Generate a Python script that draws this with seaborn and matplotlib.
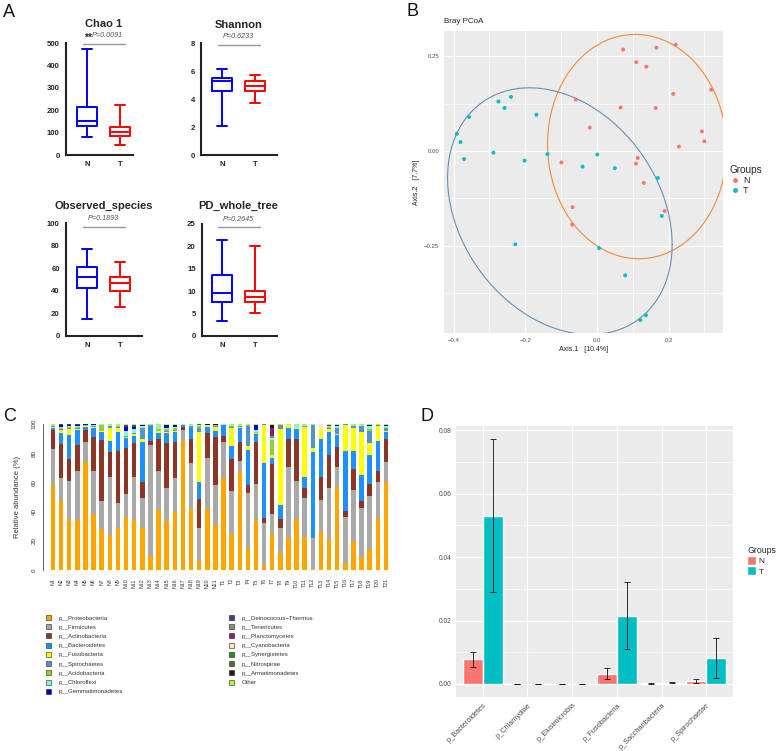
import numpy as np
import pandas as pd
import seaborn as sns
import matplotlib.pyplot as plt
import matplotlib.transforms as mtransforms
from matplotlib.patches import Patch
from matplotlib.lines import Line2D
from matplotlib.ticker import MultipleLocator

sns.set_style('white')
plt.rcParams['font.family'] = ['Liberation Sans', 'DejaVu Sans']

# ---------------- panel A: five-number summaries (min, q1, median, q3, max)
chao_n = [82, 128, 154, 215, 475]
chao_t = [46, 86, 102, 126, 221]
shannon_n = [2.05, 4.56, 5.29, 5.53, 6.14]
shannon_t = [3.74, 4.59, 4.92, 5.29, 5.72]
obs_n = [15.1, 42.6, 51.8, 61.5, 77.2]
obs_t = [26, 39.6, 47, 52.4, 65.7]
pdtree_n = [3.4, 7.6, 9.6, 13.7, 21.4]
pdtree_t = [5.2, 7.5, 8.75, 10.0, 20.1]

# ---------------- panel B: Bray PCoA coordinates
pcoa_n_x = [0.073, 0.166, 0.220, 0.110, 0.138, 0.213, 0.319, -0.059, 0.066, 0.164, -0.020,
            0.293, 0.300, 0.229, -0.099, 0.114, 0.109, 0.131, -0.068, 0.189, -0.069]
pcoa_n_y = [0.268, 0.273, 0.281, 0.235, 0.223, 0.151, 0.162, 0.136, 0.115, 0.114, 0.062,
            0.052, 0.026, 0.012, -0.030, -0.018, -0.033, -0.084, -0.148, -0.158, -0.194]
pcoa_t_x = [-0.391, -0.381, -0.371, -0.357, -0.275, -0.258, -0.240, -0.169, -0.289, -0.202, -0.138,
            -0.040, 0.001, 0.050, 0.170, 0.181, -0.228, 0.006, 0.079, 0.137, 0.121]
pcoa_t_y = [0.046, 0.024, -0.021, 0.090, 0.131, 0.114, 0.143, 0.096, -0.004, -0.025, -0.008,
            -0.041, -0.009, -0.045, -0.071, -0.171, -0.246, -0.256, -0.328, -0.433, -0.446]
# 95% ellipses (centre and shape matrix)
ellipse_n_center = [0.112, 0.012]
ellipse_n_shape = [[0.0625, -0.0015], [-0.0015, 0.0876]]
ellipse_t_center = [-0.1035, -0.1585]
ellipse_t_shape = [[0.0983, -0.0276], [-0.0276, 0.106]]

# ---------------- panel C: relative abundance (%) per sample, N1..N21 then T1..T21
samples = ['N%d' % i for i in range(1, 22)] + ['T%d' % i for i in range(1, 22)]
phyla = ['p__Proteobacteria', 'p__Firmicutes', 'p__Actinobacteria', 'p__Bacteroidetes',
         'p__Fusobacteria', 'p__Spirochaetes', 'p__Acidobacteria', 'p__Chloroflexi',
         'p__Gemmatimonadetes', 'p__Deinococcus\u2212Thermus', 'p__Tenericutes', 'p__Planctomycetes',
         'p__Cyanobacteria', 'p__Synergistetes', 'p__Nitrospirae', 'p__Armatimonadetes', 'Other']
phylum_colors = ['#FFA500', '#A9A9A9', '#8B3626', '#1E90FF', '#FFFF00', '#4F94CD', '#9ACD32',
                 '#7FFFD4', '#0000CD', '#483D8B', '#8B8970', '#8B1C62', '#FFE4C4', '#228B22',
                 '#556B2F', '#1C1C1C', '#ADFF2F']

proteobacteria = [58, 47, 35, 34, 74, 38.5, 28, 24, 28.5, 36, 34, 29, 9.5, 41, 33.5, 40, 88.5, 41.5, 7, 42, 31,
                  63, 24.5, 67, 15, 34, 3.5, 25, 11.5, 22, 35, 22.5, 0.5, 27, 21, 57, 4.5, 20, 9, 14.5, 35.5, 60]
firmicutes = [25, 16, 26, 34, 14, 29.5, 19.5, 39.5, 17.5, 16, 30, 20.5, 76, 26.5, 22.5, 23, 7.5, 31.5, 21.5, 35, 27,
              25, 29.5, 8, 37.5, 25, 29, 13.5, 17, 48.5, 26, 27, 21.5, 21, 35.5, 13.5, 31.5, 35, 33.5, 36.5, 24.5, 14]
actinobacteria = [13, 23, 15, 17.5, 8, 23, 41.5, 17, 35.5, 31.5, 23, 11, 3, 22, 31, 25, 2, 17, 20, 17, 33,
                  4, 22, 13, 6, 29, 3, 34, 6.5, 19.5, 29, 7, 0, 16, 22, 13.5, 4.5, 14.5, 4.5, 8, 7.5, 15.5]
bacteroidetes = [1.5, 8, 16.5, 10.5, 2, 6.5, 5.5, 8, 13, 7, 5, 27, 10, 4.5, 7, 6.5, 0.5, 7, 12, 4, 4.5,
                 7, 9, 9.5, 23.5, 5, 38, 4.5, 9.5, 7, 6.5, 7.5, 58.5, 25.5, 16, 8.5, 41, 12, 18, 20, 21, 5]
fusobacteria = [0.3, 2, 4, 0.5, 0.3, 0.5, 0.5, 9, 3, 0.5, 1, 2, 0.3, 1, 0.5, 0.5, 0, 0.5, 34, 1, 2.5,
                0.3, 12, 0.5, 3, 0.5, 26, 2, 52, 2, 0.5, 34, 3, 7, 2, 0.5, 18, 16, 29.5, 8, 10, 1]
spirochaetes = [0.5, 0.5, 0.8, 1, 0.5, 0.5, 0.5, 0.8, 0.5, 0.5, 0.5, 7.5, 0.5, 0.5, 1, 1, 1, 1, 3, 0.3, 0.5,
                0.3, 1, 0.5, 13.5, 0.5, 0.3, 0, 1.5, 0.3, 0.5, 0.5, 16, 0, 0.5, 4.5, 0.3, 1, 4, 8.5, 0.5, 1.5]
acidobacteria = [0.2, 0.5, 0.5, 0.5, 0.3, 0.3, 4, 0.5, 0.5, 0.5, 0.5, 0.5, 0, 1, 1, 1, 0, 0, 1, 0, 0.5,
                 0, 0.5, 0, 0.5, 0.5, 0, 10, 0, 0, 0, 0, 0, 0, 1, 0, 0, 0, 0, 1, 0, 0]
chloroflexi = [0.8, 1, 1, 0.5, 0.5, 0.6, 0.3, 0.5, 0.5, 3, 2.5, 1, 0.3, 2.5, 1, 1, 0.3, 1, 0.5, 0.3, 0.5,
               0.2, 1, 0.5, 0.5, 1.5, 0, 1.5, 0, 0.5, 2, 1, 0, 0, 0.5, 1, 0, 1, 0.5, 2, 0, 1.5]
gemmatimonadetes = [0.3, 1.5, 0.7, 1, 0.2, 0.3, 0, 0.3, 0.5, 3, 1.5, 0.5, 0, 0.5, 2, 1.5, 0, 0, 0, 0.2, 0.3,
                    0, 0, 0.5, 0, 3.5, 0, 0, 0, 0, 0, 0, 0, 0, 0, 1, 0, 0, 0, 0.5, 0.5, 1]
deinococcus = [0, 0.3, 0.3, 0.3, 0, 0, 0, 0, 0, 1.5, 1.5, 0, 0, 0, 0, 0, 0, 0, 0, 0, 0,
               0, 0, 0, 0, 0, 0, 0, 0, 0, 0, 0, 0, 0, 0, 0, 0, 0, 0, 0, 0, 0]
tenericutes = [0, 0, 0, 0, 0, 0, 0, 0, 0, 0, 0, 0, 0, 0, 0, 0, 0, 0, 0.5, 0, 0,
               0, 0, 0, 0, 0, 0, 1.5, 1.5, 0, 0, 0, 0, 0, 0, 0, 0, 0, 0, 0, 0, 0]
planctomycetes = [0, 0, 0, 0, 0, 0, 0, 0, 0, 0, 0, 0, 0, 0, 0, 0, 0, 0, 0, 0, 0,
                  0, 0, 0, 0, 0, 0, 5, 0, 0, 0, 0, 0, 0, 1, 0, 0, 0, 0, 0, 0, 0]
cyanobacteria = [0, 0, 0, 0, 0, 0, 0, 0, 0, 0, 0, 0, 0, 0, 0, 0, 0, 0, 0, 0, 0,
                 0, 0, 0, 0, 0, 0, 0, 0, 0, 0, 0, 0, 3.5, 0, 0, 0, 0, 0, 0, 0, 0]
synergistetes = [0, 0, 0, 0, 0, 0, 0, 0, 0, 0, 0, 0, 0, 0, 0, 0, 0, 0, 0.3, 0, 0,
                 0, 0, 0, 0, 0, 0, 0, 0, 0, 0, 0, 0, 0, 0, 0, 0, 0, 0, 0.5, 0, 0]
nitrospirae = [0, 0, 0, 0, 0, 0, 0, 0, 0, 0, 0, 0, 0, 0, 0, 0, 0, 0, 0, 0, 0,
               0, 0, 0, 0, 0, 0, 0.5, 0, 0, 0, 0, 0, 0, 0, 0, 0, 0, 0, 0, 0, 0]
armatimonadetes = [0, 0, 0, 0, 0, 0, 0, 0, 0, 0, 0, 0, 0, 0, 0, 0, 0, 0, 0, 0, 0,
                   0, 0, 0, 0, 0, 0, 2, 0, 0, 0, 0, 0, 0, 0, 0, 0, 0, 0, 0, 0, 0]
other = [0.4, 0.2, 0.2, 0.2, 0.2, 0.3, 0.2, 0.4, 0.5, 0.5, 0.5, 1, 0.4, 0.5, 0.5, 0.5, 0.2, 0.5, 0.2, 0.2, 0.2,
         0.2, 0.5, 0.5, 0.5, 0.5, 0.2, 0.5, 0.5, 0.2, 0.5, 0.5, 0.5, 0, 0.5, 0.5, 0.2, 0.5, 1, 0.5, 0.5, 0.5]
layers = [proteobacteria, firmicutes, actinobacteria, bacteroidetes, fusobacteria, spirochaetes,
          acidobacteria, chloroflexi, gemmatimonadetes, deinococcus, tenericutes, planctomycetes,
          cyanobacteria, synergistetes, nitrospirae, armatimonadetes, other]

# ---------------- panel D: mean relative abundance with error bars
phyla_d = ['p_Bacteroidetes', 'p_Chlamydiae', 'p_Elusimicrobia', 'p_Fusobacteria',
           'p_Saccharibacteria', 'p_Spirochaetae']
mean_n = [0.0078, 0.00003, 0.00002, 0.0032, 0.0002, 0.0009]
mean_t = [0.0530, 0.00003, 0.00001, 0.0214, 0.0004, 0.0081]
low_n = [0.0055, 0.0, 0.0, 0.0015, 0.0001, 0.0003]
high_n = [0.0101, 0.00006, 0.00004, 0.0049, 0.0003, 0.0015]
low_t = [0.0289, 0.0, 0.0, 0.0109, 0.0003, 0.0018]
high_t = [0.0773, 0.00006, 0.00002, 0.0321, 0.0005, 0.0144]

W, H = 777, 751
fig = plt.figure(figsize=(W / 100, H / 100), dpi=100)


def box(l, t, r, b):
    return [l / W, 1 - b / H, (r - l) / W, (b - t) / H]


# ======== A ========
def alpha_box(rect, xlim, vn, vt, ymax, step, title, ptext, ys, stars=False):
    ax = fig.add_axes(rect)
    df = pd.DataFrame({'group': ['N'] * 5 + ['T'] * 5, 'value': vn + vt})
    sns.boxplot(data=df, x='group', y='value', hue='group', order=['N', 'T'],
                palette={'N': '#0000FF', 'T': '#FF0000'}, fill=False, whis=(0, 100),
                width=0.6, linewidth=1.4, legend=False, ax=ax)
    ax.set_xlim(*xlim)
    ax.set_ylim(0, ymax)
    ax.set_yticks(np.arange(0, ymax + step / 2, step))
    ax.set_xlabel('')
    ax.set_ylabel('')
    for s in ['top', 'right']:
        ax.spines[s].set_visible(False)
    for s in ['left', 'bottom']:
        ax.spines[s].set_linewidth(1.5)
        ax.spines[s].set_color('#222222')
    ax.tick_params(direction='out', length=3, width=1.2, color='#222222', labelsize=5.6, pad=1.5)
    for lab in ax.get_xticklabels() + ax.get_yticklabels():
        lab.set_fontweight('bold')
    tr = mtransforms.blended_transform_factory(ax.transData, ax.transAxes)
    ax.text(0.5, ys[0], title, transform=tr, ha='center', va='center', fontsize=8, fontweight='bold')
    px = 0.62 if stars else 0.5
    ax.text(px, ys[1], ptext, transform=tr, ha='center', va='center', fontsize=5.2,
            style='italic', color='#555555')
    if stars:
        ax.text(0.02, ys[1] - 0.015, '**', transform=tr, ha='center', va='center', fontsize=7.5,
                fontweight='bold')
    ax.plot([-0.12, 1.15], [ys[2], ys[2]], transform=tr, color='#999999', lw=1.0, clip_on=False)
    return ax


alpha_box(box(66, 43, 133, 155), (-0.64, 1.39), chao_n, chao_t, 500, 100, 'Chao 1', 'P=0.0091',
          (1.17, 1.065, 0.99), stars=True)
alpha_box(box(201, 43, 277, 155), (-0.64, 1.67), shannon_n, shannon_t, 8, 2, 'Shannon', 'P=0.6233',
          (1.16, 1.056, 0.98))
alpha_box(box(66, 223, 142, 336), (-0.64, 1.67), obs_n, obs_t, 100, 20, 'Observed_species', 'P=0.1893',
          (1.15, 1.037, 0.967))
alpha_box(box(202, 224, 277, 336), (-0.61, 1.67), pdtree_n, pdtree_t, 25, 5, 'PD_whole_tree', 'P=0.2645',
          (1.16, 1.04, 0.97))


# ======== ggplot-like style ========
def gg_style(ax):
    ax.set_facecolor('#EBEBEB')
    for s in ax.spines.values():
        s.set_visible(False)
    ax.set_axisbelow(True)
    ax.grid(True, which='major', color='white', lw=0.9)
    ax.grid(True, which='minor', color='white', lw=0.45)
    ax.tick_params(which='major', length=2, width=0.5, color='#333333', labelsize=4.3,
                   labelcolor='#4D4D4D', pad=1.5)
    ax.tick_params(which='minor', length=0)


# ======== B ========
def ellipse_path(center, shape):
    chol = np.linalg.cholesky(np.array(shape))
    ang = np.linspace(0, 2 * np.pi, 181)
    circle = np.column_stack([np.cos(ang), np.sin(ang)])
    return np.array(center) + circle @ chol.T


ax_b = fig.add_axes(box(444, 31, 723, 333))
df_b = pd.DataFrame({'x': pcoa_n_x + pcoa_t_x, 'y': pcoa_n_y + pcoa_t_y,
                     'group': ['N'] * len(pcoa_n_x) + ['T'] * len(pcoa_t_x)})
sns.scatterplot(data=df_b, x='x', y='y', hue='group', palette={'N': '#F8766D', 'T': '#00BFC4'},
                s=8, linewidth=0, legend=False, ax=ax_b, zorder=3)
e_n = ellipse_path(ellipse_n_center, ellipse_n_shape)
e_t = ellipse_path(ellipse_t_center, ellipse_t_shape)
ax_b.plot(e_n[:, 0], e_n[:, 1], color='#F08C3A', lw=0.8, zorder=2)
ax_b.plot(e_t[:, 0], e_t[:, 1], color='#6A8DB5', lw=0.8, zorder=2)
ax_b.set_xlim(-0.427, 0.352)
ax_b.set_ylim(-0.48, 0.317)
ax_b.set_xticks([-0.4, -0.2, 0.0, 0.2])
ax_b.set_xticklabels(['\u22120.4', '\u22120.2', '0.0', '0.2'])
ax_b.set_yticks([-0.25, 0.0, 0.25])
ax_b.set_yticklabels(['\u22120.25', '0.00', '0.25'])
ax_b.xaxis.set_minor_locator(MultipleLocator(0.1))
ax_b.yaxis.set_minor_locator(MultipleLocator(0.125))
gg_style(ax_b)
ax_b.set_xlabel('Axis.1   [10.4%]', fontsize=5, color='#222222', labelpad=2)
ax_b.set_ylabel('Axis.2   [7.7%]', fontsize=5, color='#222222', labelpad=3)
ax_b.set_title('Bray PCoA', loc='left', fontsize=5.8, pad=6, color='#222222')
hb = [Line2D([], [], marker='o', ls='', color='#F8766D', markersize=2.5),
      Line2D([], [], marker='o', ls='', color='#00BFC4', markersize=2.5)]
fig.legend(hb, ['N', 'T'], title='Groups', loc='upper left', bbox_to_anchor=(725 / W, 1 - 160 / H),
           frameon=False, fontsize=6.5, title_fontsize=7.2, alignment='left', handlelength=1.2,
           handletextpad=0.3, borderpad=0, labelspacing=0.15)

# ======== C ========
ax_c = fig.add_axes(box(43, 424, 392, 570))
cum = np.zeros(len(samples))
tops = []
for vals in layers:
    cum = cum + np.array(vals)
    tops.append(cum.copy())
for col, top in zip(reversed(phylum_colors), reversed(tops)):
    sns.barplot(x=samples, y=top, order=samples, color=col, width=0.55, saturation=1,
                linewidth=0, ax=ax_c)
ax_c.set_xlim(-1.23, 41.75)
ax_c.set_ylim(0, 100)
ax_c.set_yticks([0, 20, 40, 60, 80, 100])
ax_c.set_yticklabels(['0', '20', '40', '60', '80', '100'], rotation=90, va='center')
for s in ['top', 'right', 'bottom']:
    ax_c.spines[s].set_visible(False)
ax_c.spines['left'].set_linewidth(0.6)
ax_c.spines['left'].set_color('#444444')
ax_c.tick_params(axis='y', direction='out', length=3, width=0.6, color='#444444', labelsize=4.5,
                 labelcolor='#333333', pad=1.5)
ax_c.tick_params(axis='x', length=0, labelsize=3.8, labelcolor='#333333', pad=6, rotation=90)
ax_c.set_xlabel('')
ax_c.set_ylabel('Relative abundance (%)', fontsize=5.5, color='#333333', labelpad=8)

handles_c = [Patch(facecolor=c, edgecolor='#222222', lw=0.4) for c in phylum_colors]
fig.legend(handles_c[:9], phyla[:9], loc='upper left', bbox_to_anchor=(43 / W, 1 - 612 / H),
           frameon=False, fontsize=4.3, handlelength=0.9, handleheight=0.9, handletextpad=1.2,
           borderpad=0, labelspacing=0.62, labelcolor='#333333')
fig.legend(handles_c[9:], phyla[9:], loc='upper left', bbox_to_anchor=(226 / W, 1 - 612 / H),
           frameon=False, fontsize=4.3, handlelength=0.9, handleheight=0.9, handletextpad=1.2,
           borderpad=0, labelspacing=0.62, labelcolor='#333333')

# ======== D ========
ax_d = fig.add_axes(box(456, 426, 733, 697))
df_d = pd.DataFrame({'phylum': phyla_d * 2, 'group': ['N'] * 6 + ['T'] * 6, 'mean': mean_n + mean_t})
sns.barplot(data=df_d, x='phylum', y='mean', hue='group', order=phyla_d, hue_order=['N', 'T'],
            palette={'N': '#F8766D', 'T': '#00BFC4'}, width=0.9, saturation=1, errorbar=None,
            legend=False, ax=ax_d)
for cont, m, lo, hi in zip(ax_d.containers, [mean_n, mean_t], [low_n, low_t], [high_n, high_t]):
    xs = [b.get_x() + b.get_width() / 2 for b in cont]
    m = np.array(m)
    ax_d.errorbar(xs, m, yerr=[m - np.array(lo), np.array(hi) - m], fmt='none', ecolor='#111111',
                  elinewidth=0.6, capsize=2.5, capthick=0.6, zorder=4)
ax_d.set_xlim(-0.6, 5.6)
ax_d.set_ylim(-0.0041, 0.0813)
ax_d.set_yticks([0.0, 0.02, 0.04, 0.06, 0.08])
ax_d.set_yticklabels(['0.00', '0.02', '0.04', '0.06', '0.08'])
ax_d.yaxis.set_minor_locator(MultipleLocator(0.01))
gg_style(ax_d)
ax_d.tick_params(axis='y', labelsize=4.8)
ax_d.tick_params(axis='x', labelsize=5.3, labelcolor='#4D4D4D')
for lab in ax_d.get_xticklabels():
    lab.set_rotation(45)
    lab.set_ha('right')
    lab.set_rotation_mode('anchor')
ax_d.set_xlabel('')
ax_d.set_ylabel('')
hd = [Patch(facecolor='#F8766D'), Patch(facecolor='#00BFC4')]
fig.legend(hd, ['N', 'T'], title='Groups', loc='upper left', bbox_to_anchor=(743 / W, 1 - 542 / H),
           frameon=False, fontsize=6, title_fontsize=6.3, alignment='left', handlelength=1.1,
           handleheight=1.3, handletextpad=0.3, borderpad=0, labelspacing=0.1)

# ======== panel letters ========
for letter, x, y in [('A', 3, 17), ('B', 406, 16), ('C', 3, 421), ('D', 421, 421)]:
    fig.text(x / W, 1 - y / H, letter, fontsize=13, va='baseline', ha='left', color='#111111')

fig.savefig('out.png', dpi=100)
